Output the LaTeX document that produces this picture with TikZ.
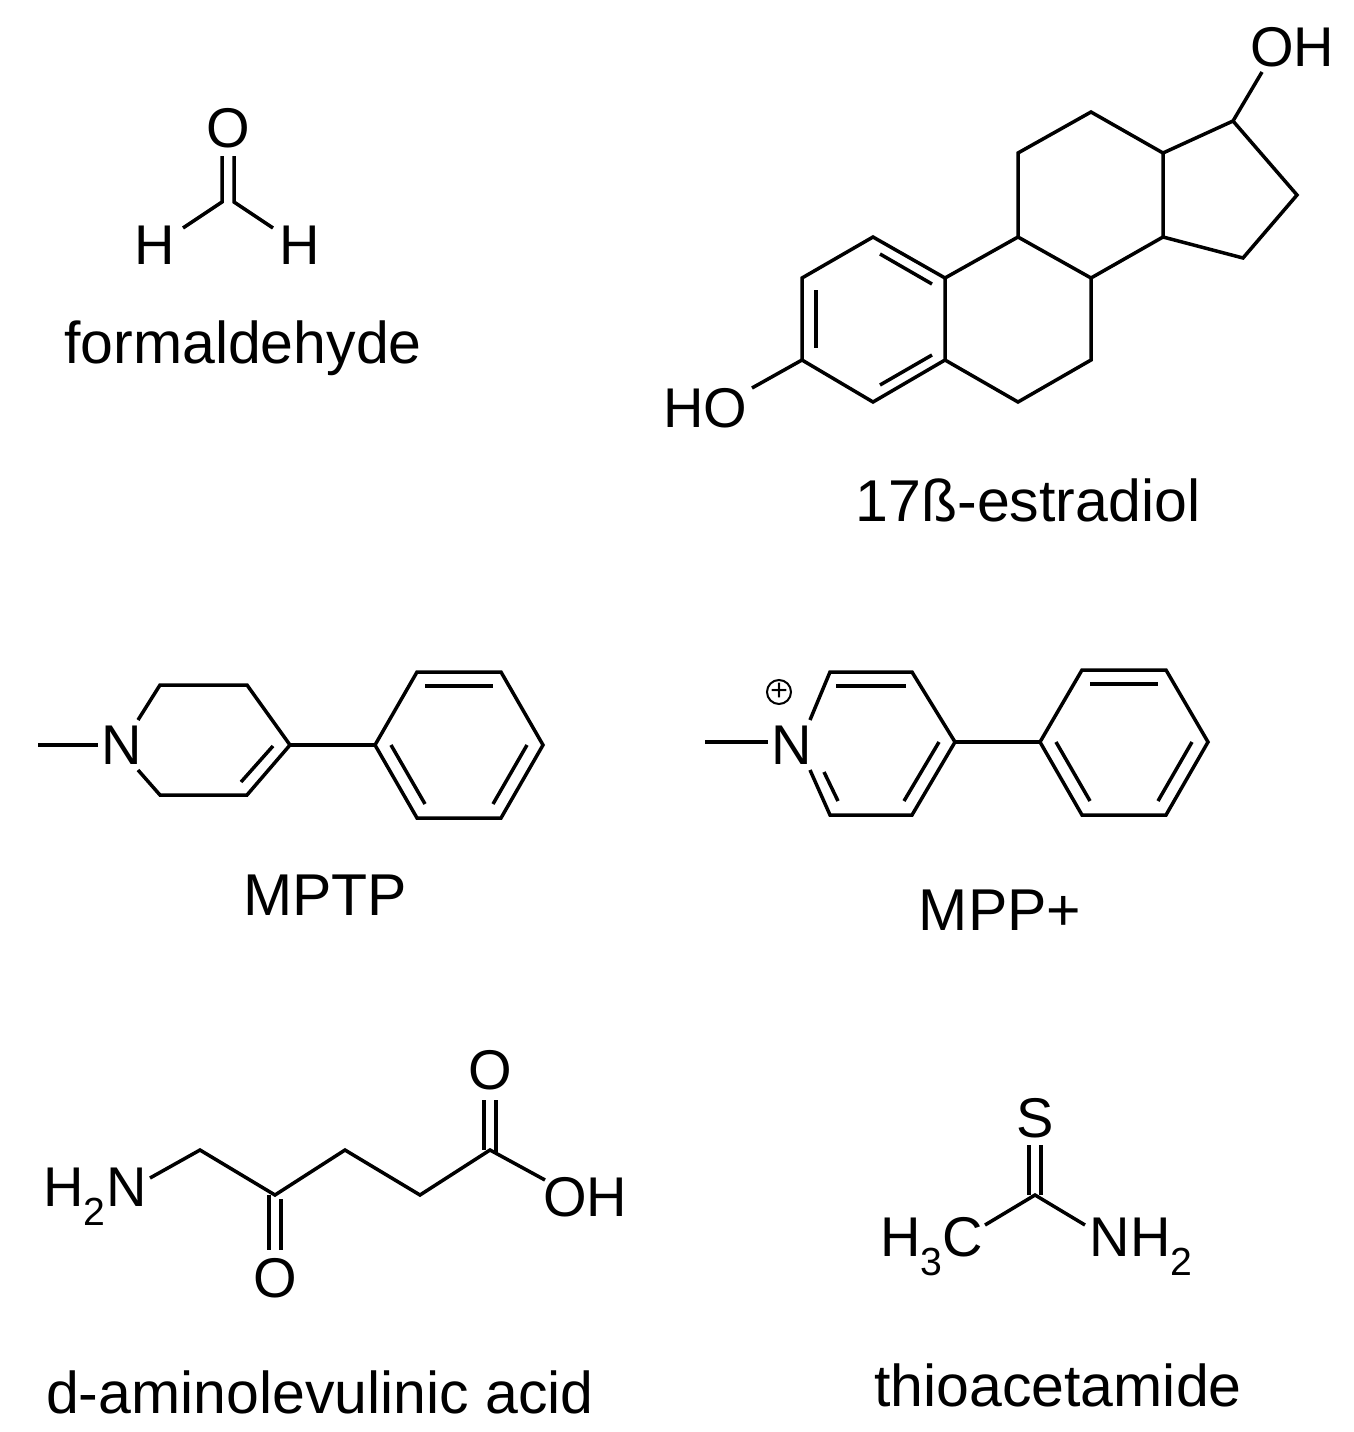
\documentclass[tikz,border=0pt]{standalone}
\usepackage{fontspec}
\setmainfont{Liberation Sans}
\begin{document}
\begin{tikzpicture}[x=1pt,y=-1pt,line width=3.5pt,
  lbl/.style={font=\fontsize{59}{66}\selectfont,inner sep=0pt},
  atom/.style={font=\fontsize{56}{62}\selectfont,inner sep=0pt}]
\fill[white] (0,0) rectangle (1353,1432);
\useasboundingbox (0,0) rectangle (1353,1432);
% formaldehyde
\node[atom] (fO) at (228,128) {O};
\node[atom] (fH1) at (155,245) {H};
\node[atom] (fH2) at (300,245) {H};
\draw (222,156) -- (222,202) -- (183,228);
\draw (234,156) -- (234,202) -- (273,228);
\node[lbl] (fl) at (243,348) {formaldehyde};
% estradiol
\draw (873,237) -- (945,278) -- (945,360) -- (873,402) -- (802,360) -- (802,278) -- cycle;
\draw (945,278) -- (1018,237) -- (1091,278) -- (1091,360) -- (1018,402) -- (945,360);
\draw (1018,237) -- (1018,153) -- (1091,112) -- (1163,153) -- (1163,237) -- (1091,278);
\draw (1163,153) -- (1233,121) -- (1297,195) -- (1243,258) -- (1163,237);
\draw (880,254) -- (932,284);
\draw (816,290) -- (816,348);
\draw (880,385) -- (932,355);
\draw (1233,121) -- (1262,72);
\node[atom] (eOH) at (1292,47) {OH};
\draw (802,360) -- (752,388);
\node[atom] (eHO) at (705,408) {HO};
\node[lbl] (el) at (1028,500) {17ß-estradiol};
% MPTP
\node[atom] (mN) at (122,745) {N};
\draw (38,745) -- (98,745);
\draw (138,720) -- (160,685) -- (247,685) -- (290,745) -- (247,795) -- (160,795) -- (138,770);
\draw (273,746) -- (241,782);
\draw (290,745) -- (375,745);
\draw (375,745) -- (417,672) -- (501,672) -- (543,745) -- (501,818) -- (417,818) -- cycle;
\draw (425,686) -- (493,686);
\draw (527,745) -- (493,804);
\draw (391,745) -- (425,804);
\node[lbl] (ml) at (325,895) {MPTP};
% MPP+
\node[atom] (pN) at (792,745) {N};
\node[font=\fontsize{30}{34}\selectfont,inner sep=0pt] at (779,692) {+};
\draw[line width=2pt] (779,692) circle (12);
\draw (705,742) -- (768,742);
\draw (810,720) -- (830,672) -- (912,672) -- (955,742) -- (912,815) -- (830,815) -- (810,770);
\draw (836,686) -- (906,686);
\draw (939,742) -- (904,801);
\draw (824,772) -- (838,801);
\draw (955,742) -- (1040,742);
\draw (1040,742) -- (1082,670) -- (1166,670) -- (1208,742) -- (1166,815) -- (1082,815) -- cycle;
\draw (1090,684) -- (1158,684);
\draw (1192,742) -- (1158,801);
\draw (1056,742) -- (1090,801);
\node[lbl] (pl) at (1000,910) {MPP+};
% aminolevulinic acid
\node[atom] (aN) at (95,1197) {H\textsubscript{2}N};
\draw (150,1178) -- (200,1150) -- (275,1195) -- (345,1150) -- (420,1195) -- (490,1150) -- (545,1180);
\draw (484,1100) -- (484,1150);
\draw (496,1100) -- (496,1154);
\node[atom] (aO1) at (490,1070) {O};
\node[atom] (aOH) at (585,1197) {OH};
\draw (269,1195) -- (269,1250);
\draw (281,1199) -- (281,1250);
\node[atom] (aO2) at (275,1278) {O};
\node[lbl] (al) at (320,1392) {d-aminolevulinic acid};
% thioacetamide
\node[atom] (tS) at (1035,1118) {S};
\draw (1029,1145) -- (1029,1195);
\draw (1041,1145) -- (1041,1195);
\draw (985,1225) -- (1035,1195) -- (1085,1225);
\node[atom,anchor=east] (tC) at (985,1247) {H\textsubscript{3}C};
\node[atom,anchor=west] (tN) at (1088,1247) {NH\textsubscript{2}};
\node[lbl] (tl) at (1058,1385) {thioacetamide};
\end{tikzpicture}
\end{document}
